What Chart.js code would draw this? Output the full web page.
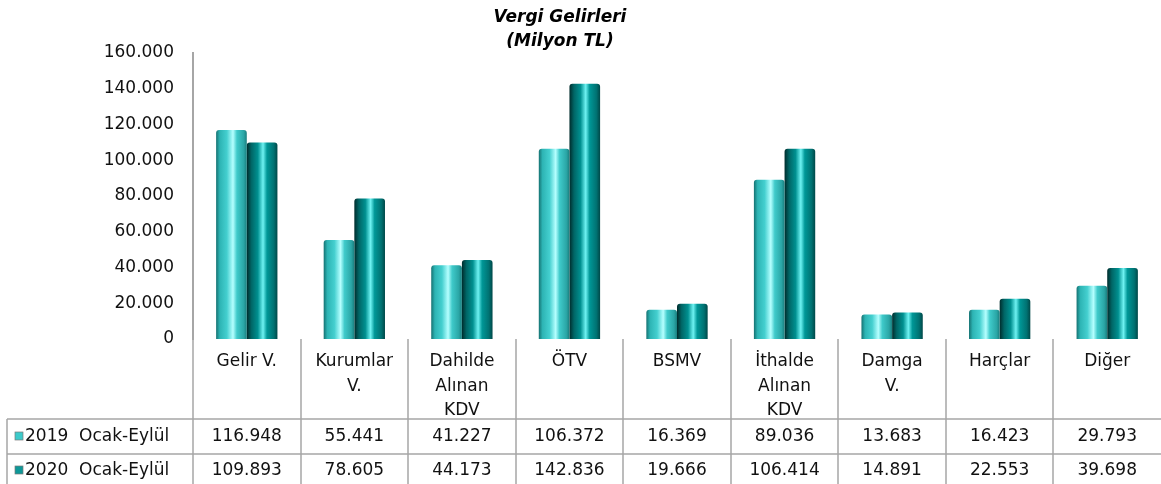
<!DOCTYPE html>
<html>
<head>
<meta charset="utf-8">
<script src="https://cdn.jsdelivr.net/npm/chart.js@4/dist/chart.umd.min.js"></script>
<style>
  html, body { margin: 0; padding: 0; background: #fff; }
  #wrap { width: 1161px; height: 484px; }
</style>
</head>
<body>
<div id="wrap"><canvas id="dataChart" width="1161" height="484"></canvas></div>
<script>
// chart data
const categories = [
    ['Gelir V.'], ['Kurumlar', 'V.'], ['Dahilde', 'Alınan', 'KDV'], ['ÖTV'], ['BSMV'],
    ['İthalde', 'Alınan', 'KDV'], ['Damga', 'V.'], ['Harçlar'], ['Diğer']
];
const seriesNames = ['2019  Ocak-Eylül', '2020  Ocak-Eylül'];
const values2019 = [116948, 55441, 41227, 106372, 16369, 89036, 13683, 16423, 29793];
const values2020 = [109893, 78605, 44173, 142836, 19666, 106414, 14891, 22553, 39698];
const titleLines = ['Vergi Gelirleri', '(Milyon TL)'];
const yMax = 160000;
const yStep = 20000;

const FONT = '"DejaVu Sans", sans-serif';
const LINE = '#a6a6a6';
const CAT_PCT = 0.57;

// format 116948 -> 116.948
function fmt(v) {
    return String(Math.round(v)).replace(/\B(?=(\d{3})+(?!\d))/g, '.');
}

// cylinder-like horizontal gradients for the bars
const gradStops = [
    [[0, '#157272'], [0.12, '#2db4b4'], [0.35, '#44cfcf'], [0.55, '#b5ffff'], [0.68, '#3fcaca'], [0.9, '#2aa6a6'], [1, '#1a7e7e']],
    [[0, '#002c2c'], [0.15, '#006666'], [0.36, '#009090'], [0.53, '#6ef2f2'], [0.66, '#009797'], [0.88, '#007272'], [1, '#004848']]
];
const swatchColors = ['#3ccaca', '#0e9898'];

// gradient per bar, worked out from the category scale
function barFill(c) {
    const chart = c.chart;
    const xs = chart.scales.x;
    if (!chart.chartArea || !xs) return swatchColors[c.datasetIndex];
    const colW = (chart.chartArea.right - chart.chartArea.left) / categories.length;
    const barW = colW * CAT_PCT / 2;
    const center = xs.getPixelForValue(c.dataIndex);
    const left = c.datasetIndex === 0 ? center - barW : center;
    const g = chart.ctx.createLinearGradient(left, 0, left + barW, 0);
    gradStops[c.datasetIndex].forEach(s => g.addColorStop(s[0], s[1]));
    return g;
}

const titleAndTable = {
    id: 'titleAndTable',
    afterDraw(chart) {
        const ctx = chart.ctx;
        const area = chart.chartArea;
        const xs = chart.scales.x;
        const n = categories.length;
        const colW = (area.right - area.left) / n;
        const headBottom = 419, row1Bottom = 454, row2Bottom = 489, tableLeft = 7;

        ctx.save();
        // title
        ctx.fillStyle = '#000';
        ctx.font = 'italic bold 17px ' + FONT;
        ctx.textAlign = 'center';
        ctx.textBaseline = 'middle';
        ctx.fillText(titleLines[0], 560, 18);
        ctx.fillText(titleLines[1], 560, 42);

        // table lines (no border on the far right)
        ctx.strokeStyle = LINE;
        ctx.lineWidth = 1.5;
        ctx.beginPath();
        for (let i = 0; i < n; i++) {
            const x = Math.round(area.left + i * colW);
            ctx.moveTo(x, area.bottom);
            ctx.lineTo(x, row2Bottom);
        }
        ctx.moveTo(tableLeft, headBottom);
        ctx.lineTo(tableLeft, row2Bottom);
        [headBottom, row1Bottom].forEach(y => {
            ctx.moveTo(tableLeft, y);
            ctx.lineTo(area.right, y);
        });
        ctx.stroke();

        // category headers
        ctx.fillStyle = '#111';
        ctx.font = '17px ' + FONT;
        ctx.textAlign = 'center';
        ctx.textBaseline = 'alphabetic';
        categories.forEach((lines, i) => {
            const cx = xs.getPixelForValue(i);
            lines.forEach((t, j) => ctx.fillText(t, cx, 366 + j * 24.5));
        });

        // values rows
        const rows = [values2019, values2020];
        const rowMid = [437, 471];
        ctx.textBaseline = 'middle';
        rows.forEach((vals, r) => {
            ctx.textAlign = 'center';
            vals.forEach((v, i) => ctx.fillText(fmt(v), xs.getPixelForValue(i), rowMid[r]));
            // legend key
            ctx.fillStyle = swatchColors[r];
            ctx.fillRect(15, rowMid[r] - 5, 8, 8);
            ctx.strokeStyle = '#7a7a7a';
            ctx.lineWidth = 0.7;
            ctx.strokeRect(15, rowMid[r] - 5, 8, 8);
            ctx.fillStyle = '#111';
            ctx.textAlign = 'left';
            ctx.fillText(seriesNames[r], 25, rowMid[r]);
        });
        ctx.restore();
    }
};

const ctx = document.getElementById('dataChart').getContext('2d');
new Chart(ctx, {
    type: 'bar',
    data: {
        labels: categories.map(c => c.join(' ')),
        datasets: [
            { label: seriesNames[0], data: values2019, backgroundColor: barFill },
            { label: seriesNames[1], data: values2020, backgroundColor: barFill }
        ]
    },
    options: {
        responsive: false,
        animation: false,
        events: [],
        layout: { padding: { left: 0, right: 0, top: 53, bottom: 145 } },
        datasets: {
            bar: {
                categoryPercentage: CAT_PCT,
                barPercentage: 1,
                borderRadius: { topLeft: 3, topRight: 3 },
                borderSkipped: 'bottom'
            }
        },
        plugins: {
            legend: { display: false },
            title: { display: false },
            tooltip: { enabled: false }
        },
        scales: {
            x: {
                display: false
            },
            y: {
                min: 0,
                max: yMax,
                afterFit(scale) { scale.width = 193; },
                ticks: {
                    stepSize: yStep,
                    padding: 19,
                    color: '#111',
                    font: { family: FONT, size: 17 },
                    callback: v => fmt(v)
                },
                grid: { display: false, drawTicks: false },
                border: { display: true, color: LINE, width: 2 }
            }
        }
    },
    plugins: [titleAndTable]
});
</script>
</body>
</html>
